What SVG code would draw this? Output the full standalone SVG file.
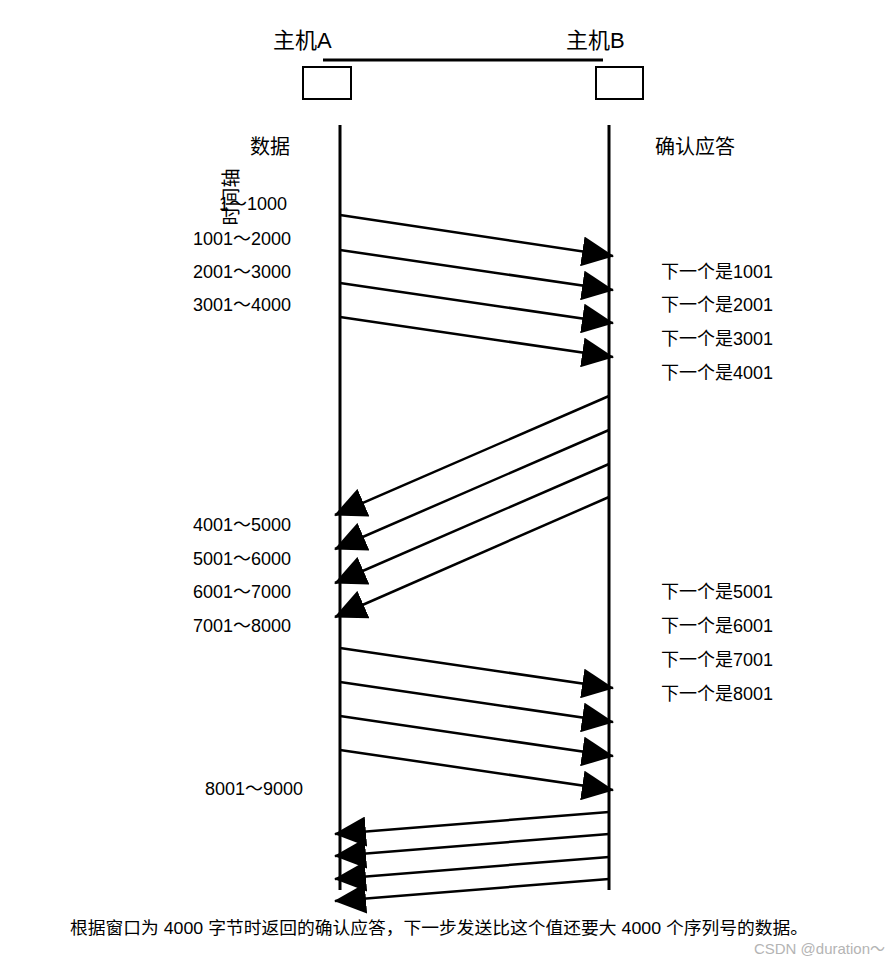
<svg xmlns="http://www.w3.org/2000/svg" width="891" height="965" viewBox="0 0 891 965">
<style>
text{font-family:"Liberation Sans","Noto Sans CJK SC",sans-serif;fill:#000}
.h{font-size:22px}
.c{font-size:20px}
.l{font-size:18px}
.m{stroke:#000;stroke-width:2.5;fill:none;marker-end:url(#ah)}
.v{stroke:#000;stroke-width:3;fill:none}
.box{fill:#fff;stroke:#000;stroke-width:2}
</style>
<defs>
<marker id="ah" viewBox="0 0 32 30" refX="31" refY="15" markerWidth="32" markerHeight="30" markerUnits="userSpaceOnUse" orient="auto">
<path d="M0,0 L32,15 L0,30 Z" fill="#000"/>
</marker>
</defs>
<rect width="891" height="965" fill="#fff"/>
<g id="hostA">
<text class="h" x="273" y="48">主机A</text>
<rect class="box" x="303" y="67" width="48" height="32"/>
</g>
<g id="hostB">
<text class="h" x="566" y="48">主机B</text>
<rect class="box" x="596" y="67" width="47" height="32"/>
</g>
<g id="link"><line class="v" x1="323" y1="60" x2="603" y2="60"/></g>
<g id="lifelines">
<line class="v" x1="340" y1="125" x2="340" y2="890"/>
<line class="v" x1="609" y1="125" x2="609" y2="890"/>
</g>
<g id="headers">
<text class="c" x="250" y="154">数据</text>
<text class="c" x="655" y="154">确认应答</text>
</g>
<g id="data-labels">
<text class="l" x="219" y="210">1～1000</text>
<text class="l" x="193" y="245">1001～2000</text>
<text class="l" x="193" y="278">2001～3000</text>
<text class="l" x="193" y="311">3001～4000</text>
<text class="l" x="193" y="531">4001～5000</text>
<text class="l" x="193" y="565">5001～6000</text>
<text class="l" x="193" y="598">6001～7000</text>
<text class="l" x="193" y="632">7001～8000</text>
<text class="l" x="205" y="795">8001～9000</text>
</g>
<g id="timeaxis">
<text x="0" y="0" font-size="19" text-anchor="middle" transform="translate(238,197) rotate(-90)">时间轴</text>
</g>
<g id="ack-labels">
<text class="l" x="661" y="278">下一个是1001</text>
<text class="l" x="661" y="311">下一个是2001</text>
<text class="l" x="661" y="345">下一个是3001</text>
<text class="l" x="661" y="379">下一个是4001</text>
<text class="l" x="661" y="598">下一个是5001</text>
<text class="l" x="661" y="632">下一个是6001</text>
<text class="l" x="661" y="666">下一个是7001</text>
<text class="l" x="661" y="700">下一个是8001</text>
</g>
<g id="connectors">
<line class="m" x1="340" y1="215" x2="613" y2="256"/>
<line class="m" x1="340" y1="250" x2="613" y2="290"/>
<line class="m" x1="340" y1="283" x2="613" y2="323"/>
<line class="m" x1="340" y1="317" x2="613" y2="357"/>
<line class="m" x1="609" y1="396" x2="335" y2="515"/>
<line class="m" x1="609" y1="430" x2="335" y2="549"/>
<line class="m" x1="609" y1="464" x2="335" y2="583"/>
<line class="m" x1="609" y1="497" x2="335" y2="617"/>
<line class="m" x1="340" y1="648" x2="613" y2="688"/>
<line class="m" x1="340" y1="682" x2="613" y2="722"/>
<line class="m" x1="340" y1="716" x2="613" y2="756"/>
<line class="m" x1="340" y1="750" x2="613" y2="790"/>
<line class="m" x1="609" y1="812" x2="335" y2="834"/>
<line class="m" x1="609" y1="834" x2="335" y2="856"/>
<line class="m" x1="609" y1="857" x2="335" y2="879"/>
<line class="m" x1="609" y1="879" x2="335" y2="901"/>
</g>
<g id="caption">
<text x="70" y="934" font-size="17" textLength="738" lengthAdjust="spacingAndGlyphs">根据窗口为 4000 字节时返回的确认应答，下一步发送比这个值还要大 4000 个序列号的数据。</text>
</g>
<text x="885" y="954" font-size="15" style="fill:#b4b4b4" text-anchor="end">CSDN @duration～</text>
</svg>
